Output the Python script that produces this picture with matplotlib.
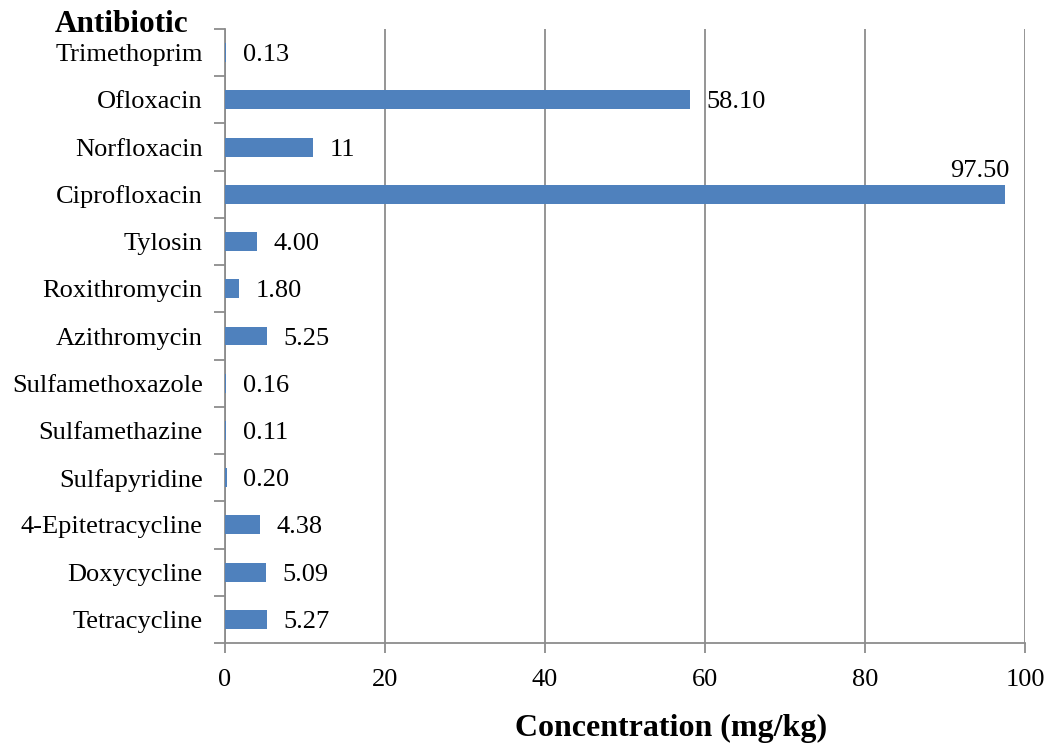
import matplotlib
matplotlib.use("Agg")
import matplotlib.pyplot as plt
import numpy as np

antibiotics = ["Trimethoprim", "Ofloxacin", "Norfloxacin", "Ciprofloxacin", "Tylosin",
               "Roxithromycin", "Azithromycin", "Sulfamethoxazole", "Sulfamethazine",
               "Sulfapyridine", "4-Epitetracycline", "Doxycycline", "Tetracycline"]
concentration = [0.13, 58.10, 11, 97.50, 4.00, 1.80, 5.25, 0.16, 0.11, 0.20, 4.38, 5.09, 5.27]
value_labels = ["0.13", "58.10", "11", "97.50", "4.00", "1.80", "5.25", "0.16", "0.11",
                "0.20", "4.38", "5.09", "5.27"]
x_ticks = [0, 20, 40, 60, 80, 100]

plt.rcParams['font.family'] = ['Liberation Serif', 'DejaVu Serif']

fig = plt.figure(figsize=(10.56, 7.45), dpi=100)
ax = fig.add_axes([225 / 1056, 1 - 643 / 745, 800 / 1056, 614 / 745])

ypos = np.arange(len(antibiotics))
bar_color = "#4F81BD"
grid_color = "#8C8C8C"
fs = 19

ax.barh(ypos, concentration, height=0.4, color=bar_color, zorder=3)

for y, v, lab in zip(ypos, concentration, value_labels):
    if v > 90:
        ax.annotate(lab, (v, y - 0.2), xytext=(3, 2), textcoords="offset points",
                    ha="right", va="bottom", fontsize=fs, color="black")
    else:
        ax.annotate(lab, (v, y), xytext=(12, 0), textcoords="offset points",
                    ha="left", va="center_baseline", fontsize=fs, color="black")

ax.set_xlim(0, 100)
ax.set_ylim(len(antibiotics) - 0.5, -0.5)
ax.set_xticks(x_ticks)
ax.set_xticklabels([str(t) for t in x_ticks], fontsize=fs)
ax.set_yticks(ypos)
ax.set_yticklabels(antibiotics, fontsize=fs, va="center_baseline")
ax.tick_params(axis="y", length=0, pad=16)
# category separator ticks on the y axis
ax.set_yticks(np.arange(-0.5, len(antibiotics), 1), minor=True)
ax.tick_params(axis="y", which="minor", length=8, width=1.3, color=grid_color, direction="out")
ax.tick_params(axis="x", length=7, width=1.3, color=grid_color, pad=12)

ax.grid(axis="x", color=grid_color, linewidth=1.3, zorder=0)
for s in ["top", "right"]:
    ax.spines[s].set_visible(False)
for s in ["left", "bottom"]:
    ax.spines[s].set_color(grid_color)
    ax.spines[s].set_linewidth(1.3)

ax.set_xlabel("Concentration (mg/kg)", fontsize=23, fontweight="bold", labelpad=16)
ax.xaxis.label.set_x(0.5575)
fig.text(55 / 1056, 1 - 24 / 745, "Antibiotic", fontsize=22.5, fontweight="bold",
         ha="left", va="center")

fig.savefig("out.png", dpi=100)
